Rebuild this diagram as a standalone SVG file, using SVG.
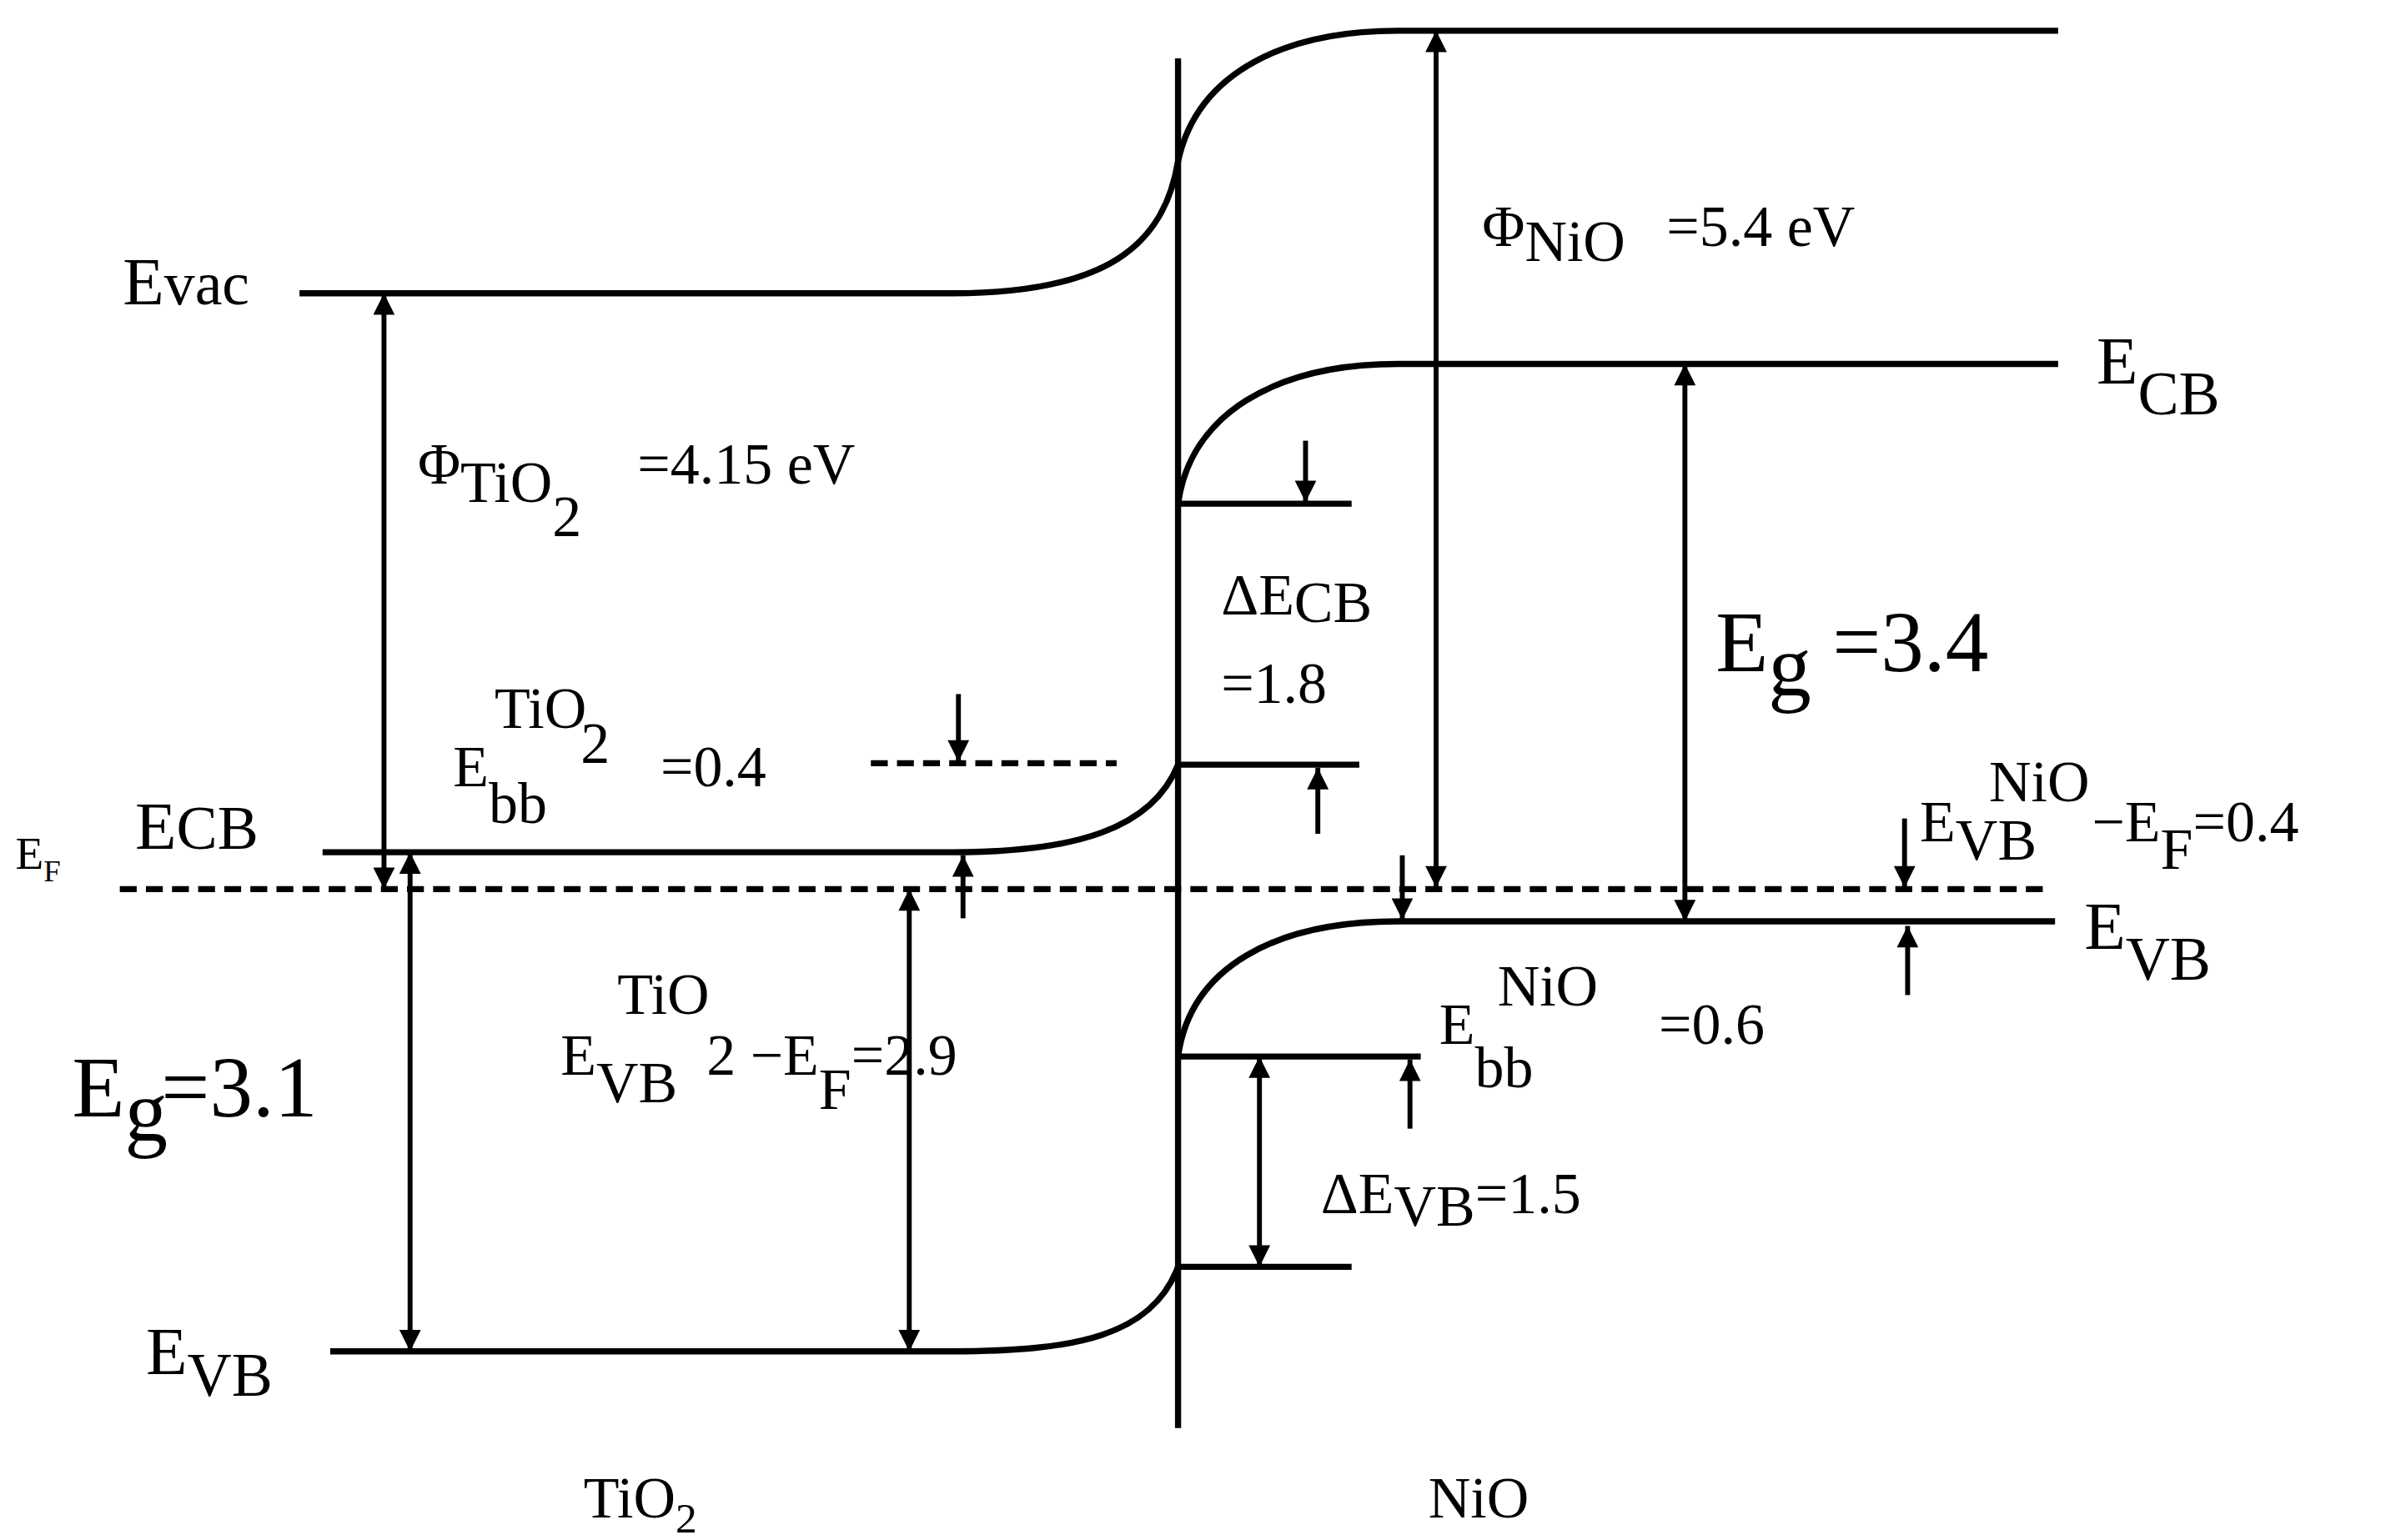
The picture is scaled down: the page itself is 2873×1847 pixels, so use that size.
<svg xmlns="http://www.w3.org/2000/svg" width="2873" height="1847" viewBox="0 0 2873 1847">
<style>
.l{fill:none;stroke:#000;stroke-width:4}
.a{fill:none;stroke:#000;stroke-width:3.2}
.d{fill:none;stroke:#000;stroke-width:4;stroke-dasharray:11 6}
text{font-family:"Liberation Serif","Times New Roman",serif;fill:#000}
.m{font-size:44px}.s{font-size:38px}.b{font-size:56px}
</style>
<defs>
<marker id="h" viewBox="0 0 10 10" refX="10" refY="5" markerWidth="20" markerHeight="14" markerUnits="userSpaceOnUse" orient="auto-start-reverse"><path d="M0,0 L10,5 L0,10 Z" fill="#000"/></marker>
</defs>
<rect width="2873" height="1847" fill="#fff"/>
<g transform="scale(1.8417)">
<g id="bands">
<line class="l" x1="767" y1="38" x2="767" y2="930"/>
<path class="l" d="M195,191 H620 C720,191 758,160 767,105 C780,45 840,20 910,20 H1340"/>
<path class="l" d="M210,555 H620 C700,555 750,540 767,498 H885"/>
<path class="l" d="M767,328 C775,270 830,237 910,237 H1340 M767,328 H880"/>
<path class="l" d="M215,880 H620 C700,880 750,870 767,825 H880"/>
<path class="l" d="M767,688 C775,630 830,600 910,600 H1338 M767,688 H925"/>
<line class="d" x1="78" y1="579" x2="1335" y2="579"/>
<line class="d" x1="567" y1="497" x2="727" y2="497"/>
</g>
<g id="connectors">
<line class="a" x1="250" y1="191" x2="250" y2="579" marker-start="url(#h)" marker-end="url(#h)"/>
<line class="a" x1="267" y1="555" x2="267" y2="880" marker-start="url(#h)" marker-end="url(#h)"/>
<line class="a" x1="592" y1="579" x2="592" y2="880" marker-start="url(#h)" marker-end="url(#h)"/>
<line class="a" x1="627" y1="598" x2="627" y2="557" marker-end="url(#h)"/>
<line class="a" x1="624" y1="452" x2="624" y2="496" marker-end="url(#h)"/>
<line class="a" x1="850" y1="287" x2="850" y2="327" marker-end="url(#h)"/>
<line class="a" x1="858" y1="543" x2="858" y2="500" marker-end="url(#h)"/>
<line class="a" x1="935" y1="20" x2="935" y2="578" marker-start="url(#h)" marker-end="url(#h)"/>
<line class="a" x1="1097" y1="237" x2="1097" y2="600" marker-start="url(#h)" marker-end="url(#h)"/>
<line class="a" x1="913" y1="557" x2="913" y2="599" marker-end="url(#h)"/>
<line class="a" x1="918" y1="735" x2="918" y2="690" marker-end="url(#h)"/>
<line class="a" x1="820" y1="688" x2="820" y2="825" marker-start="url(#h)" marker-end="url(#h)"/>
<line class="a" x1="1240" y1="533" x2="1240" y2="578" marker-end="url(#h)"/>
<line class="a" x1="1242" y1="648" x2="1242" y2="603" marker-end="url(#h)"/>
</g>
<g id="labels">
<text x="80" y="198" class="m">E<tspan font-size="40">vac</tspan></text>
<text x="272" y="315" class="s">Φ<tspan dy="12">TiO</tspan><tspan dy="22">2</tspan><tspan x="415" dy="-34">=4.15 eV</tspan></text>
<text x="88" y="553" class="m">E<tspan font-size="40">CB</tspan></text>
<text x="10" y="566" font-size="30">E<tspan font-size="20" dy="8">F</tspan></text>
<text x="295" y="512" class="s">E<tspan dy="24">bb</tspan></text>
<text x="322" y="474" class="s">TiO</text>
<text x="378" y="497" class="s">2</text>
<text x="430" y="512" class="s">=0.4</text>
<text x="47" y="727" class="b">E<tspan dy="16">g</tspan><tspan x="105" dy="-16">=3.1</tspan></text>
<text x="365" y="700" class="s">E<tspan dy="18">VB</tspan></text>
<text x="402" y="660" class="s">TiO</text>
<text x="460" y="700" class="s">2 −E<tspan dy="22">F</tspan><tspan dy="-22">=2.9</tspan></text>
<text x="95" y="895" class="m">E<tspan dy="14" font-size="40">VB</tspan></text>
<text x="380" y="988" class="s">TiO<tspan dy="10" font-size="28">2</tspan></text>
<text x="930" y="988" class="s">NiO</text>
<text x="965" y="160" class="s">Φ<tspan dy="10">NiO</tspan><tspan x="1085" dy="-10">=5.4 eV</tspan></text>
<text x="1365" y="250" class="m">E<tspan dy="20" font-size="40">CB</tspan></text>
<text x="795" y="400" class="s">ΔE<tspan dy="5">CB</tspan></text>
<text x="795" y="458" class="s">=1.8</text>
<text x="1117" y="437" class="b">E<tspan dy="16">g</tspan><tspan x="1193" dy="-16">=3.4</tspan></text>
<text x="1250" y="548" class="s">E<tspan dy="12">VB</tspan></text>
<text x="1295" y="522" class="s">NiO</text>
<text x="1362" y="548" class="s">−E<tspan dy="18">F</tspan><tspan dy="-18">=0.4</tspan></text>
<text x="1357" y="618" class="m">E<tspan dy="20" font-size="40">VB</tspan></text>
<text x="937" y="680" class="s">E<tspan dy="28">bb</tspan></text>
<text x="975" y="655" class="s">NiO</text>
<text x="1080" y="680" class="s">=0.6</text>
<text x="860" y="790" class="s">ΔE<tspan dy="8">VB</tspan><tspan dy="-8">=1.5</tspan></text>
</g>
</g>
</svg>
